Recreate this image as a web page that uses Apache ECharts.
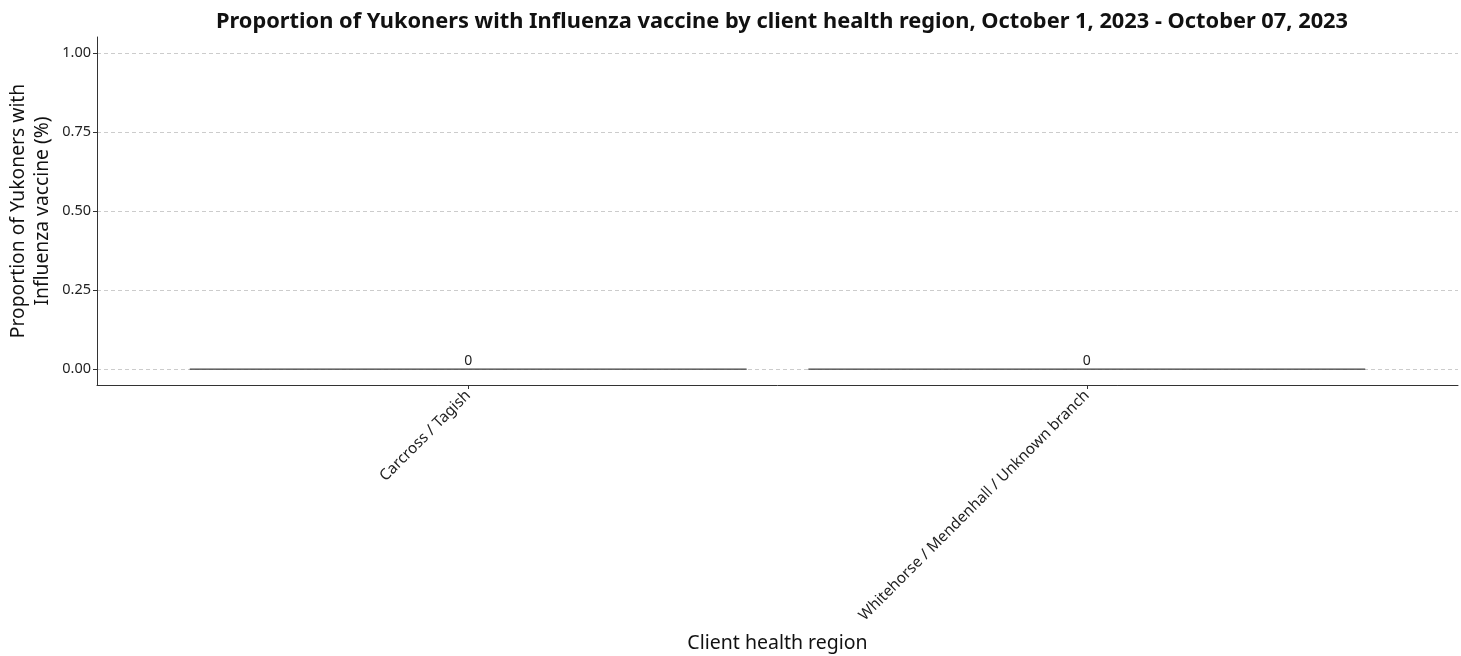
<!DOCTYPE html>
<html>
<head>
<meta charset="utf-8">
<script src="https://cdn.jsdelivr.net/npm/echarts@6/dist/echarts.min.js"></script>
<style>
  html, body { margin: 0; padding: 0; background: #fff; }
  #chart { width: 1461px; height: 656px; }
</style>
</head>
<body>
<div id="chart"></div>
<script>
// categories and values
const regions = ['Carcross / Tagish', 'Whitehorse / Mendenhall / Unknown branch'];
const proportions = [0, 0];
const yTicks = [0, 0.25, 0.5, 0.75, 1.0];

const chart = echarts.init(document.getElementById('chart'));
const fontFamily = '"Noto Sans", "Open Sans", sans-serif';

const option = {
  animation: false,
  textStyle: { fontFamily: fontFamily },
  title: {
    text: 'Proportion of Yukoners with Influenza vaccine by client health region, October 1, 2023 - October 07, 2023',
    left: 777,
    textAlign: 'center',
    top: 6,
    textStyle: { fontSize: 21.8, fontWeight: 'bold', color: '#111', fontFamily: fontFamily }
  },
  grid: { left: 97, right: 3, top: 37, bottom: 271, outerBoundsMode: 'none' },
  xAxis: {
    type: 'value',
    min: 0.4,
    max: 2.6,
    name: 'Client health region',
    nameLocation: 'middle',
    nameGap: 248,
    nameMoveOverlap: false,
    nameTextStyle: { fontSize: 19.5, color: '#111' },
    axisLine: { show: true, onZero: false, lineStyle: { color: '#333', width: 1 } },
    axisTick: { show: true, length: 4, customValues: [1, 2], lineStyle: { color: '#333' } },
    splitLine: { show: false },
    axisLabel: {
      customValues: [1, 2],
      rotate: 45,
      fontSize: 15.3,
      color: '#222',
      margin: 8,
      formatter: function (v) { return regions[Math.round(v) - 1] || ''; }
    }
  },
  yAxis: {
    type: 'value',
    min: -0.05,
    max: 1.05,
    name: 'Proportion of Yukoners with\nInfluenza vaccine (%)',
    nameLocation: 'middle',
    nameGap: 42,
    nameMoveOverlap: false,
    nameTextStyle: { fontSize: 19.3, color: '#111', lineHeight: 24 },
    axisLine: { show: true, lineStyle: { color: '#333', width: 1 } },
    axisTick: { show: true, length: 4, customValues: yTicks, lineStyle: { color: '#333' } },
    axisLabel: {
      customValues: yTicks,
      fontSize: 14.5,
      color: '#222',
      margin: 6,
      formatter: function (v) { return v.toFixed(2); }
    },
    splitLine: { show: true, lineStyle: { color: '#ccc', type: [4, 3], width: 1 } }
  },
  series: [{
    type: 'custom',
    data: proportions.map(function (v, i) { return [i + 1, v]; }),
    renderItem: function (params, api) {
      const x = api.value(0);
      const y = api.value(1);
      const p0 = api.coord([x - 0.45, 0]);
      const p1 = api.coord([x + 0.45, y]);
      const mid = api.coord([x, y]);
      return {
        type: 'group',
        children: [{
          type: 'rect',
          shape: { x: p0[0], y: Math.min(p0[1], p1[1]), width: p1[0] - p0[0], height: Math.abs(p1[1] - p0[1]) },
          style: { fill: '#5b8ff9', stroke: '#555', lineWidth: 1 }
        }, {
          type: 'text',
          style: {
            x: mid[0], y: Math.min(p0[1], p1[1]) - 1,
            text: String(y),
            align: 'center', verticalAlign: 'bottom',
            fontSize: 14, fill: '#222', fontFamily: fontFamily
          }
        }]
      };
    }
  }]
};

chart.setOption(option);
</script>
</body>
</html>
